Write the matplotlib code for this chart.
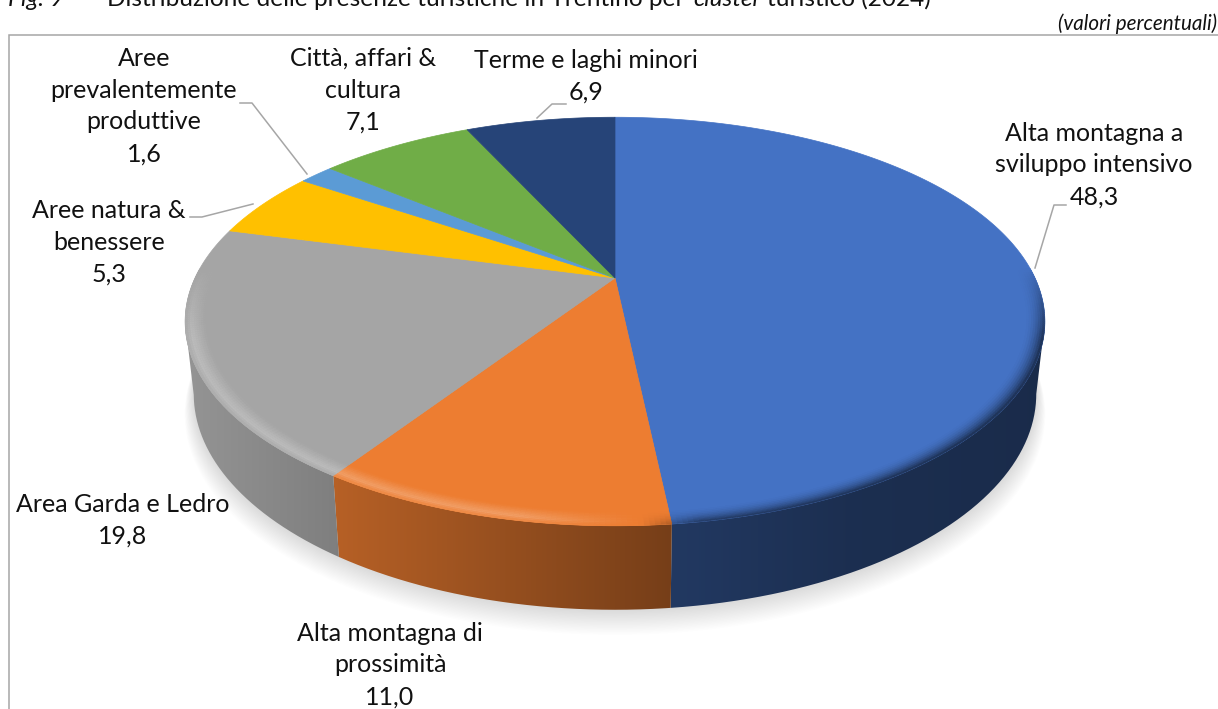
import numpy as np
import matplotlib
matplotlib.use("Agg")
import matplotlib.pyplot as plt
from matplotlib.collections import PolyCollection
from matplotlib.colors import to_rgb
from matplotlib.path import Path
from matplotlib.patches import PathPatch

categories = ["Alta montagna a\nsviluppo intensivo", "Alta montagna di\nprossimità", "Area Garda e Ledro",
              "Aree natura &\nbenessere", "Aree\nprevalentemente\nproduttive", "Città, affari &\ncultura",
              "Terme e laghi minori"]
values = [48.3, 11.0, 19.8, 5.3, 1.6, 7.1, 6.9]
value_labels = ["48,3", "11,0", "19,8", "5,3", "1,6", "7,1", "6,9"]
colors = ["#4472C4", "#ED7D31", "#A5A5A5", "#FFC000", "#5B9BD5", "#70AD47", "#264478"]
label_pos = [(1094, 165), (390, 665), (123, 520), (109, 242), (144, 106), (363, 90), (586, 76)]
leaders = [[(1066, 205), (1054, 205), (1035, 268)], None, None,
           [(190, 217), (202, 217), (253, 204)], [(240, 103), (252, 103), (307, 174)], None,
           [(566, 104), (552, 104), (537, 118)]]

plt.rcParams['font.family'] = ['Lato', 'DejaVu Sans']
fig = plt.figure(figsize=(12.18, 7.09), dpi=100)
ax = fig.add_axes([0, 0, 1, 1])
ax.set_xlim(0, 1218)
ax.set_ylim(709, 0)
ax.axis('off')

CX, CY, A, B, P = 615.0, 278.0, 420.0, 195.0, 0.213
S, D0 = 0.98, 70.0


def top(t, r=1.0):
    x, y = r * np.sin(t), -r * np.cos(t)
    w = 1 - P * y
    return CX + A * x / w, CY + B * y / w


def bot(t):
    px, py = top(t)
    y = -np.cos(t)
    return CX + (px - CX) * S, CY + (py - CY) * S + D0 / (1 - P * y)


def side_factor(x):
    return np.interp(x, [185, 347, 670, 850, 1045], [0.90, 0.76, 0.50, 0.41, 0.38])


# frame
ax.plot([9, 9, 1218], [709, 35, 35], color="#a6a6a6", lw=1.1, solid_joinstyle='miter', zorder=1)

fractions = np.cumsum([0] + values) / sum(values)
angles = fractions * 2 * np.pi

# visible part of the wall lies between the two silhouette angles
lo = np.arccos(-P)
hi = 2 * np.pi - lo

# soft shadow under the disc
tt = np.linspace(0, 2 * np.pi, 361)
bx, by = bot(tt)
for i in range(1, 19):
    f = 1 + 0.0012 * i
    ax.fill(CX + (bx - CX) * f, CY + (by - CY) * f + 1.0 * i, color="#000000", alpha=0.009, lw=0, zorder=2)

# side wall: horizontal gradient clipped to the wall of each slice
xgrid = np.linspace(150, 1080, 931)
for k in range(len(values)):
    base = np.array(to_rgb(colors[k]))
    a0, a1 = max(angles[k], lo), min(angles[k + 1], hi)
    if a1 <= a0:
        continue
    ts = np.linspace(a0, a1, 200)
    tx, ty = top(ts)
    qx, qy = bot(ts[::-1])
    verts = np.column_stack([np.r_[tx, qx, tx[0]], np.r_[ty, qy, ty[0]]])
    grad = base[None, None, :] * side_factor(xgrid)[None, :, None]
    im = ax.imshow(np.clip(grad, 0, 1), extent=(xgrid[0], xgrid[-1], 640, 300), aspect='auto',
                   interpolation='bilinear', zorder=3)
    patch = PathPatch(Path(verts), transform=ax.transData, fc='none', ec='none')
    ax.add_patch(patch)
    im.set_clip_path(patch)
ax.set_xlim(0, 1218)
ax.set_ylim(709, 0)

# top face
for k in range(len(values)):
    ts = np.linspace(angles[k], angles[k + 1], max(3, int(values[k] * 6)))
    px, py = top(ts)
    ax.fill(np.r_[CX, px], np.r_[CY, py], color=colors[k], lw=0.5, zorder=4)

# rim bevel
radii = np.linspace(0.955, 1.0, 10)
for k in range(len(values)):
    base = np.array(to_rgb(colors[k]))
    n = max(2, int(values[k] * 6))
    ts = np.linspace(angles[k], angles[k + 1], n + 1)
    polys, cols = [], []
    for a0, a1 in zip(ts[:-1], ts[1:]):
        am = (a0 + a1) / 2
        y = -np.cos(am)
        weight = np.clip((y + 0.05) / 0.35, 0, 1)
        if weight <= 0:
            continue
        xm = top(am)[0]
        light = np.clip((640 - xm) / 120, 0, 1)
        dark = np.clip((xm - 640) / 60, 0, 1)
        for r0, r1 in zip(radii[:-1], radii[1:]):
            u = ((r0 + r1) / 2 - 0.955) / 0.045
            hi_v = 1 - abs(u - 0.7) / 0.7 if u < 0.7 else 1 - (u - 0.7) / 0.3 * 0.7
            col = base + (1 - base) * 0.26 * hi_v * light * weight
            col = col * (1 - dark * weight * (1 - side_factor(xm)) * u ** 2)
            polys.append([top(a0, r0), top(a1, r0), top(a1, r1), top(a0, r1)])
            cols.append(np.clip(col, 0, 1))
    if polys:
        ax.add_collection(PolyCollection(polys, facecolors=cols, edgecolors=cols, linewidths=0.3, zorder=5))

# labels
for (x, y), name, val in zip(label_pos, categories, value_labels):
    ax.text(x, y, name + "\n" + val, ha='center', va='center', fontsize=18, color="#111111",
            linespacing=1.46, zorder=7)
for pts in leaders:
    if pts:
        ax.plot(*zip(*pts), color="#a6a6a6", lw=1.1, zorder=6)

# heading (cut by the top edge, as in the source)
FS = 17.6
ax.text(8, 6, "Fig. 9", style='italic', fontsize=FS, color="#111111", va='baseline')
t1 = ax.text(107, 6, "Distribuzione delle presenze turistiche in Trentino per ", fontsize=FS, color="#111111", va='baseline')
ax.text(1217, 30, "(valori percentuali)", style='italic', ha='right', fontsize=14.9, color="#111111", va='baseline')
fig.canvas.draw()
r = t1.get_window_extent()
t2 = ax.text(r.x1 + 3, 6, "cluster", style='italic', fontsize=FS, color="#111111", va='baseline')
r2 = t2.get_window_extent()
ax.text(r2.x1 + 5, 6, "turistico (2024)", fontsize=FS, color="#111111", va='baseline')

fig.savefig("out.png", dpi=100)
